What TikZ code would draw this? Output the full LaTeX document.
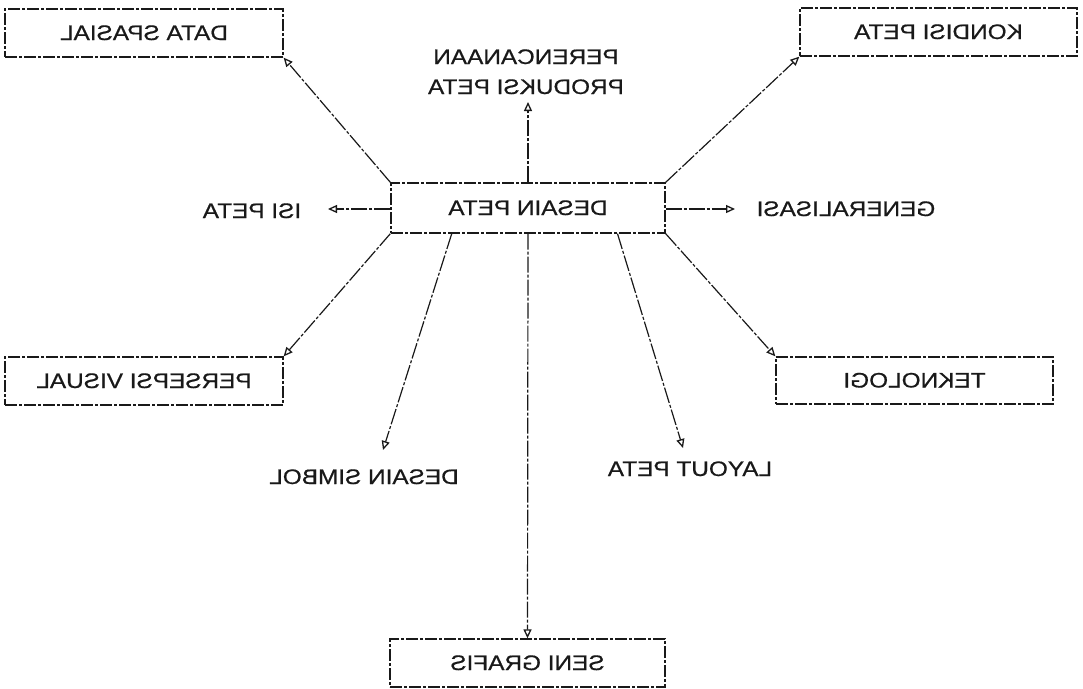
\documentclass[tikz,border=0pt]{standalone}
\usepackage{fontspec}
\usepackage{graphicx}
\setmainfont{Liberation Sans}[FakeBold=0.6]
\usetikzlibrary{arrows.meta,calc}

% mirrored, widened label text (one or more lines)
\newcommand\mirtext[1]{\scalebox{-1.16}[1]{\begin{tabular}{@{}c@{}}#1\end{tabular}}}

\begin{document}
\begin{tikzpicture}[x=1pt,y=-1pt,
  every node/.style={font=\fontsize{21}{35}\selectfont, text=black!90, inner sep=0pt},
  boxnode/.style={draw=black!90, line width=1.3pt,
    dash pattern=on 12pt off 2pt on 3pt off 2pt,
    minimum width=#1, minimum height=48pt},
  link/.style={draw=black!90, line width=1.2pt,
    dash pattern=on 16pt off 2pt on 3pt off 2pt,
    -{Triangle[open,length=9pt,width=8pt,line width=1.3pt]}}
]
\useasboundingbox (0,0) rectangle (1083,688);

% central concept
\node[boxnode=274pt, minimum height=50pt] (desain) at (528,208) {\mirtext{DESAIN PETA}};

% boxed topics
\node[boxnode=278pt] (data)     at (144,33)     {\mirtext{DATA SPASIAL}};
\node[boxnode=277pt] (kondisi)  at (938.5,32)   {\mirtext{KONDISI PETA}};
\node[boxnode=278pt] (persepsi) at (144,381)    {\mirtext{PERSEPSI VISUAL}};
\node[boxnode=277pt, minimum height=47pt] (teknologi) at (914.5,380.5) {\mirtext{TEKNOLOGI}};
\node[boxnode=275pt] (seni)     at (527.5,663)  {\mirtext{SENI GRAFIS}};

% free labels
\node[font=\fontsize{21}{30}\selectfont] (perenc) at (526,73) {\mirtext{PERENCANAAN\\PRODUKSI PETA}};
\node (isi)    at (252,211) {\mirtext{ISI PETA}};
\node (gen)    at (846,209) {\mirtext{GENERALISASI}};
\node (simbol) at (364,477) {\mirtext{DESAIN SIMBOL}};
\node (layout) at (690,469) {\mirtext{LAYOUT PETA}};

% arrow ends next to the free labels
\coordinate (tipPerenc) at (528,102);
\coordinate (tipIsi)    at (328,209);
\coordinate (tipGen)    at (735,209);
\coordinate (tipSimbol) at (383,450);
\coordinate (tipLayout) at (683,448);

% start points on the lower edge of the central box
\coordinate (outSimbol) at ($(desain.south west)!0.223!(desain.south east)$);
\coordinate (outLayout) at ($(desain.south west)!0.825!(desain.south east)$);

% connectors
\draw[link] (desain.north west) -- (data.south east);
\draw[link] (desain.north east) -- (kondisi.south west);
\draw[link] (desain.south west) -- (persepsi.north east);
\draw[link] (desain.south east) -- (teknologi.north west);
\draw[link] (desain.north) -- (tipPerenc);
\draw[link] (desain.west |- tipIsi) -- (tipIsi);
\draw[link] (desain.east |- tipGen) -- (tipGen);
\draw[link] (outSimbol) -- (tipSimbol);
\draw[link] (outLayout) -- (tipLayout);
\draw[link] (desain.south) -- (seni.north);
\end{tikzpicture}
\end{document}
